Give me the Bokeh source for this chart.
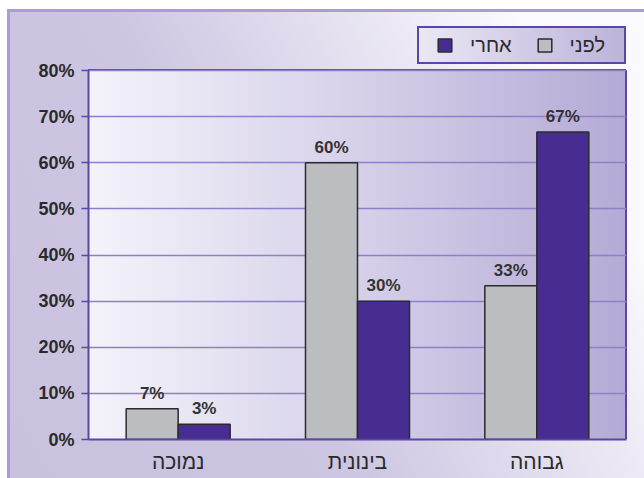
from bokeh.plotting import figure
from bokeh.models import ColumnDataSource, Legend, LegendItem, FixedTicker, CustomJSTickFormatter
from bokeh.transform import dodge
from bokeh.core.properties import value
from bokeh.embed import file_html
from bokeh.resources import INLINE

# ---- data ----
categories = ["נמוכה", "בינונית", "גבוהה"]
series_names = ["לפני", "אחרי"]
before = [6.67, 60.0, 33.33]
after = [3.33, 30.0, 66.67]
y_ticks = [0, 10, 20, 30, 40, 50, 60, 70, 80]
y_max = 80

FONT = "Liberation Sans"
PURPLE_LINE = "#5a45a8"
GRID = "#8e80c8"
GRAY_BAR = "#bcbdc0"
PURPLE_BAR = "#472d91"
EDGE = "#a99dd3"

W, H = 644, 478
PL, PT, PW, PH = 88, 70, 538, 369          # visible plot area (0..80%)
FT = 20                                     # canvas frame top (room for legend)
FH = PT + PH - FT
MR, MB = W - PL - PW, H - PT - PH
y_top = y_max * FH / PH

# legend box (screen px)
LX, LY, LW, LH = 417, 26, 209, 38

p = figure(x_range=categories, y_range=(0, y_top), width=W, height=H,
           output_backend="svg", toolbar_location=None,
           min_border_left=PL, min_border_right=MR, min_border_top=FT, min_border_bottom=MB)

line = lambda x, y, w, h: f"linear-gradient({PURPLE_LINE}, {PURPLE_LINE}) {x}px {y}px / {w}px {h}px no-repeat"
p.border_fill_alpha = 0
p.background_fill_alpha = 0
p.outline_line_color = None
p.styles = {
    "background": ", ".join([
        line(PL, PT - 1, PW, 2),                 # top edge of plot area
        line(PL + PW - 1, PT, 2, PH),            # right edge of plot area
        line(LX, LY, LW, 2), line(LX, LY + LH - 2, LW, 2),
        line(LX, LY, 2, LH), line(LX + LW - 2, LY, 2, LH),
        f"linear-gradient(to right, #ebe8f4 0%, #d3cce7 50%, #bdb3da 100%) {LX}px {LY}px / {LW}px {LH}px no-repeat",
        "linear-gradient(#ffffff, #ffffff) 0 0 / 100% 9px no-repeat",
        "linear-gradient(#ffffff, #ffffff) 0 0 / 7px 100% no-repeat",
        f"linear-gradient({EDGE}, {EDGE}) 7px 9px / 100% 3px no-repeat",
        f"linear-gradient({EDGE}, {EDGE}) 7px 9px / 3px 100% no-repeat",
        f"linear-gradient(to right, #f4f3fa 0%, #d9d4eb 45%, #b5aad5 100%) {PL}px {PT}px / {PW}px {PH}px no-repeat",
        "linear-gradient(62deg, #c9c1de 0%, #cdc6e2 40%, #faf9fd 85%)",
    ]),
}

src = ColumnDataSource(dict(
    cat=categories, before=before, after=after,
    before_lbl=[f"{round(v)}%" for v in before],
    after_lbl=[f"{round(v)}%" for v in after],
))

bw = 0.29
r1 = p.vbar(x=dodge("cat", -bw / 2, range=p.x_range), top="before", width=bw, source=src,
            fill_color=GRAY_BAR, line_color="#2b2b2b", line_width=1.5)
r2 = p.vbar(x=dodge("cat", bw / 2, range=p.x_range), top="after", width=bw, source=src,
            fill_color=PURPLE_BAR, line_color="#2b2b2b", line_width=1.5)

for col, lbl, off in (("before", "before_lbl", -bw / 2), ("after", "after_lbl", bw / 2)):
    p.text(x=dodge("cat", off, range=p.x_range), y=col, text=lbl, source=src,
           text_align="center", text_baseline="bottom", y_offset=-6,
           text_font=value(FONT), text_font_style="bold", text_font_size="17px",
           text_color="#333333")

# axes
p.yaxis.ticker = FixedTicker(ticks=y_ticks)
p.yaxis.bounds = (0, y_max)
p.yaxis.formatter = CustomJSTickFormatter(code="return tick + '%';")
p.yaxis.major_label_text_font = FONT
p.yaxis.major_label_text_font_style = "bold"
p.yaxis.major_label_text_font_size = "18px"
p.yaxis.major_label_text_color = "#2a2a2a"
p.yaxis.major_label_standoff = 7
p.yaxis.major_tick_out = 7
p.yaxis.major_tick_in = 0
p.yaxis.major_tick_line_color = PURPLE_LINE
p.yaxis.major_tick_line_width = 1.5
p.yaxis.minor_tick_line_color = None
p.yaxis.axis_line_color = PURPLE_LINE
p.yaxis.axis_line_width = 2

p.xaxis.major_label_text_font = FONT
p.xaxis.major_label_text_font_size = "21px"
p.xaxis.major_label_text_color = "#2a2a2a"
p.xaxis.major_label_standoff = 4
p.xaxis.major_tick_line_color = None
p.xaxis.minor_tick_line_color = None
p.xaxis.axis_line_color = PURPLE_LINE
p.xaxis.axis_line_width = 2

p.xgrid.grid_line_color = None
p.ygrid.grid_line_color = GRID
p.ygrid.grid_line_width = 1.5

# legend content (box drawn above via CSS); content height ~23px centred in box
legend = Legend(items=[LegendItem(label=series_names[1], renderers=[r2]),
                       LegendItem(label=series_names[0], renderers=[r1])],
                orientation="horizontal",
                location=(436 - PL, (PT + PH) - (LY + LH / 2 + 11.5)),
                padding=0, margin=0, spacing=24, label_standoff=17,
                glyph_width=17, glyph_height=16,
                label_text_font=FONT, label_text_font_size="20px", label_text_color="#2a2a2a",
                background_fill_alpha=0, border_line_color=None)
p.add_layout(legend, "center")

open("out.html", "w").write(file_html(p, INLINE))
